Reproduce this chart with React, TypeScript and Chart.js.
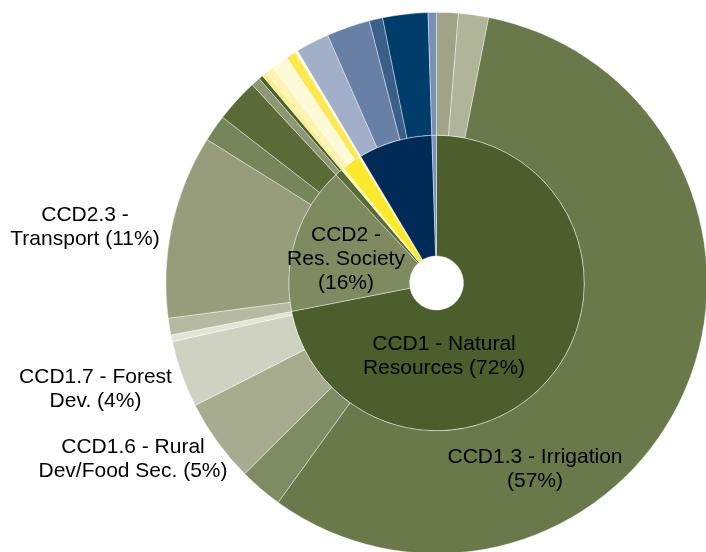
import React, { useEffect, useRef } from "react";
import { Chart, registerables } from "chart.js";

Chart.register(...registerables);

// ---- Data (percent of total) ----
const outerCategories = [
  "CCD1.1", "CCD1.2", "CCD1.3 - Irrigation", "CCD1.5", "CCD1.6 - Rural Dev/Food Sec.",
  "CCD1.7 - Forest Dev.", "CCD1.8", "CCD2.1", "CCD2.3 - Transport", "CCD2.4", "CCD2.5",
  "CCD3.1", "CCD3.2", "CCD4.1", "CCD4.2", "CCD4.3", "CCD4.4", "CCD4.5",
  "CCD5.1", "CCD5.2", "CCD5.3", "CCD5.4", "CCD6.1",
];
const outerValues = [
  1.3, 1.8, 57.0, 2.6, 5.0, 4.0, 0.4, 1.0, 11.0, 1.6, 2.6,
  0.55, 0.25, 0.3, 0.5, 1.0, 0.6, 0.15, 2.0, 2.6, 0.8, 2.7, 0.5,
];
const outerColors = [
  "#a0a386", "#b0b59a", "#69794a", "#7f8b63", "#a7ab8f", "#cfd2c0", "#e2e5d6",
  "#b6baa2", "#979c7b", "#77865a", "#5a6b37", "#8d9771", "#4d602e",
  "#fdf08c", "#fef4b4", "#fef9d6", "#fde94f", "#fffce8",
  "#a1afc8", "#6880a5", "#3a5f88", "#003d6b", "#7890b8",
];

const innerCategories = [
  "CCD1 - Natural Resources", "CCD2 - Res. Society", "CCD3", "CCD4a", "CCD4b", "CCD4c", "CCD5", "CCD6",
];
const innerValues = [72.1, 16.2, 0.8, 0.3, 2.05, 0.2, 8.1, 0.5];
const innerColors = [
  "#4b5e2c", "#7e8a60", "#5a6b38", "#fef6a8", "#fbe92c", "#fdfbe0", "#002b57", "#7a92bb",
];

// ---- Text labels ----
const labelTexts: string[][] = [
  ["CCD2.3 -", "Transport (11%)"],
  ["CCD1.7 - Forest", "Dev. (4%)"],
  ["CCD1.6 - Rural", "Dev/Food Sec. (5%)"],
  ["CCD2 -", "Res. Society", "(16%)"],
  ["CCD1 - Natural", "Resources (72%)"],
  ["CCD1.3 - Irrigation", "(57%)"],
];
const labelAnchors = [
  { x: 85, y: 221 },
  { x: 95.5, y: 383 },
  { x: 133, y: 453 },
  { x: 346, y: 241 },
  { x: 444, y: 350 },
  { x: 535, y: 463 },
];
const LINE_HEIGHT = 24;

const textPlugin = {
  id: "sliceText",
  afterDatasetsDraw(chart: any) {
    const ctx = chart.ctx as CanvasRenderingContext2D;
    ctx.save();
    ctx.font = '21px "Liberation Sans", Arial, sans-serif';
    ctx.fillStyle = "#000000";
    ctx.textAlign = "center";
    ctx.textBaseline = "alphabetic";
    labelTexts.forEach((lines, i) => {
      const a = labelAnchors[i];
      lines.forEach((t, j) => ctx.fillText(t, a.x, a.y + j * LINE_HEIGHT));
    });
    ctx.restore();
  },
};

export default function App() {
  const ref = useRef<HTMLCanvasElement | null>(null);

  useEffect(() => {
    if (!ref.current) return;
    const chart = new Chart(ref.current, {
      type: "doughnut",
      data: {
        labels: outerCategories,
        datasets: [
          {
            label: "Sub-categories",
            data: outerValues,
            backgroundColor: outerColors,
            borderColor: "rgba(255,255,255,0.5)",
            borderWidth: 0.8,
            weight: 123,
          } as any,
          {
            label: "Categories",
            data: innerValues,
            backgroundColor: innerColors,
            borderColor: "rgba(255,255,255,0.5)",
            borderWidth: 0.8,
            weight: 121,
          } as any,
        ],
      },
      options: {
        responsive: false,
        animation: false,
        cutout: 27,
        layout: { padding: { left: 165.5, top: 12, right: 12.5, bottom: 16 } },
        plugins: {
          legend: { display: false },
          tooltip: { enabled: false },
        },
      },
      plugins: [textPlugin],
    });
    return () => chart.destroy();
  }, []);

  return (
    <div
      style={{
        position: "fixed",
        left: 0,
        top: 0,
        width: 706,
        height: 552,
        overflow: "hidden",
        background: "#ffffff",
      }}
    >
      <canvas ref={ref} width={720} height={570} style={{ display: "block", width: 720, height: 570 }} />
    </div>
  );
}
